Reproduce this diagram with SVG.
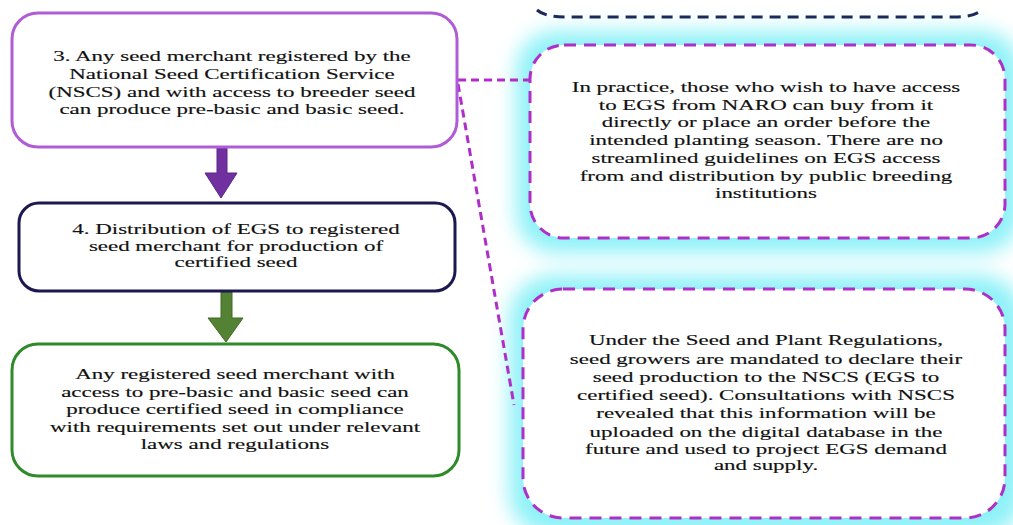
<svg xmlns="http://www.w3.org/2000/svg" width="1013" height="525" viewBox="0 0 1013 525">
<style>
.t{font-family:"Liberation Serif","Times New Roman",serif;font-size:15px;fill:#111;text-anchor:middle;stroke:#111;stroke-width:0.15}
.box{fill:#fff}
.dash{fill:#fff;stroke:#b02ec8;stroke-width:3;stroke-dasharray:12 8}
.conn{fill:none;stroke:#b02ec8;stroke-width:3;stroke-dasharray:8 5}
</style>
<defs>
<filter id="glow" x="-20%" y="-30%" width="140%" height="160%">
<feGaussianBlur stdDeviation="10"/>
</filter>
</defs>
<rect width="1013" height="525" fill="#fff"/>
<g id="glowbg" filter="url(#glow)">
<rect x="516" y="31" width="505" height="222" rx="40" fill="#8ef2f8"/>
<rect x="509" y="275" width="515" height="262" rx="45" fill="#8ef2f8"/>
</g>
<g id="top-partial">
<path d="M537,10 Q545,17 565,17 L955,17 Q975,17 983,9" fill="none" stroke="#1a2a5a" stroke-width="3" stroke-dasharray="11 7"/>
</g>
<g id="connectors">
<line class="conn" x1="458" y1="80" x2="530" y2="80"/>
<line class="conn" x1="458" y1="84" x2="514" y2="405"/>
<g id="arrow-purple">
<polygon points="217,148 227,148 227,173 237,173 221,198 205,173 217,173" fill="#7030a0" stroke="#5a2488" stroke-width="1"/>
</g>
<g id="arrow-green">
<polygon points="221,292 232,292 232,318 243,318 226,342 208,318 221,318" fill="#548235" stroke="#3f6a25" stroke-width="1"/>
</g>
</g>
<g id="node3">
<rect class="box" x="12" y="13" width="445" height="134" rx="26" stroke="#b05cd6" stroke-width="3"/>
<g transform="translate(232,0) scale(1.53,1)">
<text class="t" x="0" y="61">3. Any seed merchant registered by the</text>
<text class="t" x="0" y="79">National Seed Certification Service</text>
<text class="t" x="0" y="97">(NSCS) and with access to breeder seed</text>
<text class="t" x="0" y="114">can produce pre-basic and basic seed.</text>
</g>
</g>
<g id="node4">
<rect class="box" x="19" y="203" width="436" height="88" rx="20" stroke="#1c1850" stroke-width="3"/>
<g transform="translate(236,0) scale(1.53,1)">
<text class="t" x="0" y="234">4. Distribution of EGS to registered</text>
<text class="t" x="0" y="251">seed merchant for production of</text>
<text class="t" x="0" y="267">certified seed</text>
</g>
</g>
<g id="node5">
<rect class="box" x="12" y="344" width="447" height="132" rx="26" stroke="#2f8a2a" stroke-width="3"/>
<g transform="translate(235,0) scale(1.53,1)">
<text class="t" x="0" y="379">Any registered seed merchant with</text>
<text class="t" x="0" y="397">access to pre-basic and basic seed can</text>
<text class="t" x="0" y="414">produce certified seed in compliance</text>
<text class="t" x="0" y="432">with requirements set out under relevant</text>
<text class="t" x="0" y="449">laws and regulations</text>
</g>
</g>
<g id="note1">
<rect class="dash" x="530" y="45" width="475" height="193" rx="34"/>
<g transform="translate(766,0) scale(1.53,1)">
<text class="t" x="0" y="92">In practice, those who wish to have access</text>
<text class="t" x="0" y="110">to EGS from NARO can buy from it</text>
<text class="t" x="0" y="127">directly or place an order before the</text>
<text class="t" x="0" y="145">intended planting season. There are no</text>
<text class="t" x="0" y="163">streamlined guidelines on EGS access</text>
<text class="t" x="0" y="181">from and distribution by public breeding</text>
<text class="t" x="0" y="198">institutions</text>
</g>
</g>
<g id="note2">
<rect class="dash" x="523" y="289" width="482" height="229" rx="40"/>
<g transform="translate(766,0) scale(1.53,1)">
<text class="t" x="0" y="345">Under the Seed and Plant Regulations,</text>
<text class="t" x="0" y="364">seed growers are mandated to declare their</text>
<text class="t" x="0" y="382">seed production to the NSCS (EGS to</text>
<text class="t" x="0" y="400">certified seed). Consultations with NSCS</text>
<text class="t" x="0" y="418">revealed that this information will be</text>
<text class="t" x="0" y="437">uploaded on the digital database in the</text>
<text class="t" x="0" y="454">future and used to project EGS demand</text>
<text class="t" x="0" y="470">and supply.</text>
</g>
</g>
</svg>
